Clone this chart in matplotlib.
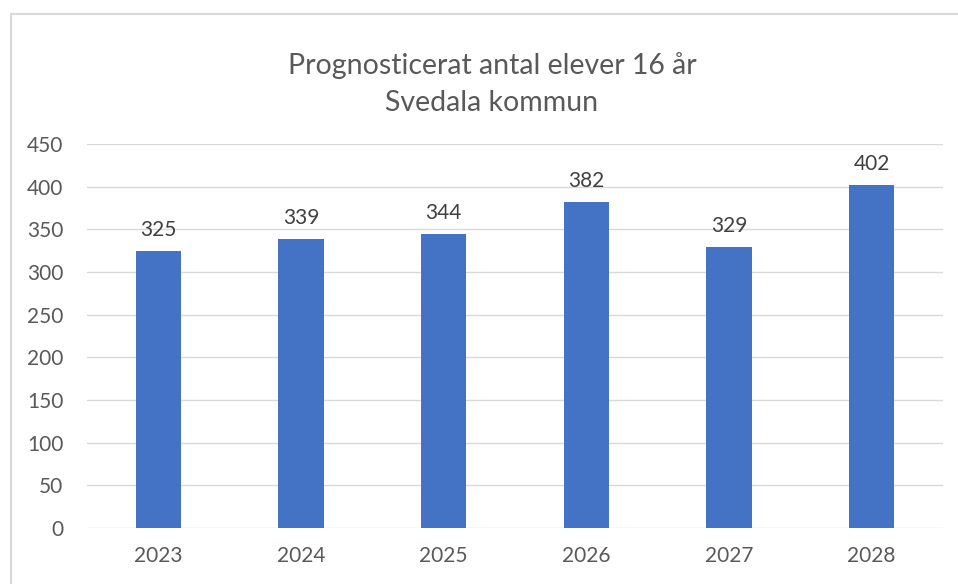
import numpy as np
import matplotlib.pyplot as plt
from matplotlib.patches import Rectangle

# data
ar = ['2023', '2024', '2025', '2026', '2027', '2028']
elever = [325, 339, 344, 382, 329, 402]
yticks = [0, 50, 100, 150, 200, 250, 300, 350, 400, 450]

plt.rcParams['font.family'] = ['Lato', 'DejaVu Sans']
textfarg = '#595959'

fig = plt.figure(figsize=(9.58, 5.84), dpi=100)
# ram runt diagrammet
fig.patches.append(Rectangle((11 / 958, -0.1), 1.2, (584 - 14) / 584 + 0.1,
                             transform=fig.transFigure, fill=False,
                             edgecolor='#D9D9D9', linewidth=1.5))

ax = fig.add_axes([87 / 958, 56 / 584, 856 / 958, 384 / 584])
x = np.arange(len(ar))
staplar = ax.bar(x, elever, width=0.32, color='#4472C4', zorder=3)
ax.bar_label(staplar, padding=8, fontsize=15, color='#404040')

ax.set_xlim(-0.5, len(ar) - 0.5)
ax.set_ylim(0, 450)
ax.set_yticks(yticks)
ax.set_xticks(x)
ax.set_xticklabels(ar)
ax.grid(axis='y', color='#D9D9D9', linewidth=1, zorder=0)
for s in ax.spines.values():
    s.set_visible(False)
ax.tick_params(axis='both', length=0, labelsize=15, colors=textfarg)
ax.tick_params(axis='y', pad=17)
ax.tick_params(axis='x', pad=13)

fig.text(492 / 958, 1 - 66 / 584, 'Prognosticerat antal elever 16 år',
         ha='center', va='center', fontsize=20.5, color=textfarg)
fig.text(492 / 958, 1 - 103 / 584, 'Svedala kommun',
         ha='center', va='center', fontsize=20.5, color=textfarg)

fig.savefig('out.png', dpi=100)
